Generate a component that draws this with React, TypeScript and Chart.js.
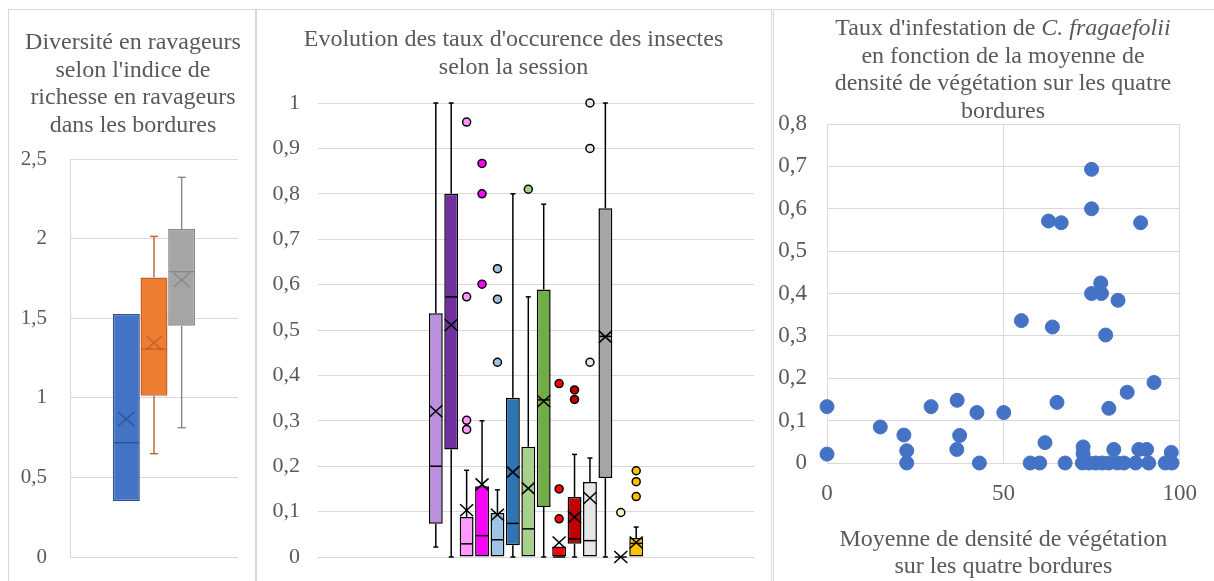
import React, { useEffect, useRef } from 'react';
import { Chart, registerables } from 'chart.js';

Chart.register(...registerables);

const FONT = "'Liberation Serif', 'Times New Roman', serif";
const TXT = '#595959';
const GRID = '#D9D9D9';

// ---------- Panel 1 : diversité en ravageurs ----------
const p1TitleLines = ["Diversité en ravageurs", "selon l'indice de", "richesse en ravageurs", "dans les bordures"];
const p1Series = ['Bordure 1', 'Bordure 2', 'Bordure 3'];
const p1Min = [0.352, 0.649, 0.812];
const p1Q1 = [0.352, 1.013, 1.453];
const p1Median = [0.718, 1.306, 1.792];
const p1Q3 = [1.526, 1.755, 2.06];
const p1Max = [1.526, 2.014, 2.385];
const p1Mean = [0.867, 1.346, 1.74];
const p1Fill = ['#4472C4', '#ED7D31', '#A5A5A5'];
const p1Edge = ['#2F528F', '#C0622A', '#878787'];
const p1Outliers: number[][] = [[], [], []];

// ---------- Panel 2 : taux d'occurence des insectes ----------
const p2TitleLines = ["Evolution des taux d'occurence des insectes", "selon la session"];
const p2Series = ['S1', 'S2', 'S3', 'S4', 'S5', 'S6', 'S7', 'S8', 'S9', 'S10', 'S11', 'S12', 'S13', 'S14'];
const p2Min = [0.022, 0, 0, 0, 0, 0, 0, 0, 0, 0, 0, 0, 0, 0];
const p2Q1 = [0.073, 0.237, 0, 0, 0, 0.026, 0, 0.11, 0, 0.029, 0, 0.174, 0, 0];
const p2Median = [0.2, 0.573, 0.029, 0.047, 0.038, 0.074, 0.062, 0.346, 0, 0.04, 0.036, 0.486, 0, 0.03];
const p2Q3 = [0.537, 0.8, 0.088, 0.156, 0.097, 0.351, 0.243, 0.589, 0.023, 0.132, 0.165, 0.768, 0, 0.042];
const p2Max = [1.0, 1.0, 0.191, 0.3, 0.148, 0.8, 0.573, 0.777, 0.023, 0.226, 0.218, 1.0, 0, 0.066];
const p2Mean = [0.321, 0.511, 0.103, 0.16, 0.093, 0.187, 0.151, 0.343, 0.032, 0.088, 0.13, 0.485, 0, 0.032];
const p2Outliers: number[][] = [
  [], [], [0.281, 0.301, 0.573, 0.958], [0.601, 0.8, 0.867], [0.429, 0.568, 0.635], [],
  [0.81], [], [0.084, 0.15, 0.382], [0.347, 0.368], [0.429, 0.9, 1.0], [], [0.098], [0.133, 0.166, 0.19],
];
const p2Fill = ['#BA8FDD', '#7030A0', '#FF99FF', '#FF00FF', '#9DC3E6', '#2E75B6', '#A9D18E',
  '#70AD47', '#FF0000', '#C00000', '#E7E6E6', '#A5A5A5', '#FFF2CC', '#FFC000'];

// ---------- Panel 3 : taux d'infestation ----------
const p3XTitle = ['Moyenne de densité de végétation', 'sur les quatre bordures'];
const densiteVeg = [75, 75, 62.8, 66.4, 88.9, 77.6, 75, 77.8, 82.5, 55.1, 63.9, 79.0, 92.7, 85.1,
  0, 29.5, 36.9, 65.2, 79.9, 42.5, 50.1, 15.1, 21.8, 37.6, 61.8, 0, 22.6, 36.8, 72.6, 72.6, 81.3,
  88.4, 90.6, 97.6, 22.6, 43.2, 57.6, 60.3, 67.5, 72.4, 74.3, 76.2, 78.0, 79.9, 82.3, 84.2, 87.5,
  91.2, 95.9, 97.8];
const tauxInfest = [0.693, 0.6, 0.571, 0.567, 0.567, 0.425, 0.4, 0.4, 0.384, 0.336, 0.321, 0.302, 0.19, 0.167,
  0.133, 0.133, 0.148, 0.143, 0.129, 0.119, 0.119, 0.085, 0.066, 0.065, 0.048, 0.021, 0.029, 0.032, 0.038, 0.022, 0.032,
  0.032, 0.032, 0.025, 0, 0, 0, 0, 0, 0, 0, 0, 0, 0, 0, 0, 0,
  0, 0, 0];

const fmt = (v: any) => String(Math.round(Number(v) * 10) / 10).replace('.', ',');

type BoxCfg = {
  min: number[]; q1: number[]; median: number[]; q3: number[]; max: number[]; mean: number[];
  outliers: number[][]; edge: string[]; fill: string[];
  lineW: number; capW: number; xHalfW: number; xHalfH: number; xLineW: number; outR: number; outEdge: string | null;
};

function makeBoxPlugin(id: string, c: BoxCfg) {
  return {
    id,
    afterDatasetsDraw(chart: any) {
      const ctx = chart.ctx as CanvasRenderingContext2D;
      const ys = chart.scales.y;
      const line = (x1: number, y1: number, x2: number, y2: number) => {
        ctx.beginPath(); ctx.moveTo(x1, y1); ctx.lineTo(x2, y2); ctx.stroke();
      };
      ctx.save();
      for (let i = 0; i < c.q1.length; i++) {
        const el = chart.getDatasetMeta(i).data[0];
        if (!el) continue;
        const { x, width } = el.getProps(['x', 'width'], true);
        const half = width / 2;
        ctx.strokeStyle = c.edge[i];
        ctx.lineWidth = c.lineW;
        ctx.lineCap = 'butt';
        if (c.max[i] > c.q3[i]) {
          const a = ys.getPixelForValue(c.q3[i]);
          const b = ys.getPixelForValue(c.max[i]);
          line(x, a, x, b);
          line(x - c.capW / 2, b, x + c.capW / 2, b);
        }
        if (c.min[i] < c.q1[i]) {
          const a = ys.getPixelForValue(c.q1[i]);
          const b = ys.getPixelForValue(c.min[i]);
          line(x, a, x, b);
          line(x - c.capW / 2, b, x + c.capW / 2, b);
        }
        const m = ys.getPixelForValue(c.median[i]);
        line(x - half + 1, m, x + half - 1, m);
        const mu = ys.getPixelForValue(c.mean[i]);
        ctx.lineWidth = c.xLineW;
        line(x - c.xHalfW, mu - c.xHalfH, x + c.xHalfW, mu + c.xHalfH);
        line(x - c.xHalfW, mu + c.xHalfH, x + c.xHalfW, mu - c.xHalfH);
        for (const o of c.outliers[i]) {
          const oy = ys.getPixelForValue(o);
          ctx.beginPath();
          ctx.arc(x, oy, c.outR, 0, Math.PI * 2);
          ctx.fillStyle = c.fill[i];
          ctx.fill();
          ctx.lineWidth = 1.5;
          ctx.strokeStyle = c.outEdge || c.edge[i];
          ctx.stroke();
        }
      }
      ctx.restore();
    },
  };
}

function yAxis(min: number, max: number, step: number, size: number, pad: number, width: number, border: boolean) {
  return {
    min, max,
    ticks: { stepSize: step, padding: pad, color: TXT, font: { family: FONT, size }, callback: fmt },
    grid: { color: GRID, drawTicks: false, lineWidth: 1 },
    border: { display: border, color: GRID, width: 1 },
    afterFit: (s: any) => { s.width = width; s.paddingTop = 0; s.paddingBottom = 0; },
  };
}

function hiddenX(height: number) {
  return {
    display: true,
    ticks: { display: false },
    grid: { display: false, drawTicks: false },
    border: { display: false },
    afterFit: (s: any) => { s.height = height; s.paddingLeft = 0; s.paddingRight = 0; },
  };
}

const titleStyle = (left: number, top: number, width: number): React.CSSProperties => ({
  position: 'absolute', left, top, width, textAlign: 'center', fontFamily: FONT,
  fontSize: 24, lineHeight: '27.6px', color: TXT, whiteSpace: 'nowrap',
});

export default function App() {
  const c1 = useRef<HTMLCanvasElement>(null);
  const c2 = useRef<HTMLCanvasElement>(null);
  const c3 = useRef<HTMLCanvasElement>(null);

  useEffect(() => {
    const charts: Chart[] = [];

    charts.push(new Chart(c1.current!, {
      type: 'bar',
      data: {
        labels: [''],
        datasets: p1Series.map((name, i) => ({
          label: name,
          data: [[p1Q1[i], p1Q3[i]]] as any,
          backgroundColor: p1Fill[i],
          borderColor: p1Edge[i],
          borderWidth: 1.5,
          borderSkipped: false,
          categoryPercentage: 0.494,
          barPercentage: 0.975,
        })),
      },
      options: {
        responsive: false, animation: false, devicePixelRatio: 1,
        layout: { padding: { top: 149, right: 16, bottom: 0, left: 0 } },
        plugins: { legend: { display: false }, tooltip: { enabled: false }, title: { display: false } },
        scales: {
          x: hiddenX(24) as any,
          y: yAxis(0, 2.5, 0.5, 21, 23, 61, true) as any,
        },
      },
      plugins: [makeBoxPlugin('box1', {
        min: p1Min, q1: p1Q1, median: p1Median, q3: p1Q3, max: p1Max, mean: p1Mean,
        outliers: p1Outliers, edge: p1Edge, fill: p1Fill,
        lineW: 1.4, capW: 8, xHalfW: 8, xHalfH: 7, xLineW: 1.2, outR: 4, outEdge: null,
      })],
    }));

    charts.push(new Chart(c2.current!, {
      type: 'bar',
      data: {
        labels: [''],
        datasets: p2Series.map((name, i) => ({
          label: name,
          data: [[p2Q1[i], p2Q3[i]]] as any,
          backgroundColor: p2Fill[i],
          borderColor: '#000000',
          borderWidth: 1.5,
          borderSkipped: false,
          categoryPercentage: 0.495,
          barPercentage: 0.9,
        })),
      },
      options: {
        responsive: false, animation: false, devicePixelRatio: 1,
        layout: { padding: { top: 93, right: 16, bottom: 0, left: 0 } },
        plugins: { legend: { display: false }, tooltip: { enabled: false }, title: { display: false } },
        scales: {
          x: hiddenX(24) as any,
          y: yAxis(0, 1, 0.1, 22, 18, 61, false) as any,
        },
      },
      plugins: [makeBoxPlugin('box2', {
        min: p2Min, q1: p2Q1, median: p2Median, q3: p2Q3, max: p2Max, mean: p2Mean,
        outliers: p2Outliers, edge: p2Fill.map(() => '#000000'), fill: p2Fill,
        lineW: 1.5, capW: 5, xHalfW: 6.5, xHalfH: 6, xLineW: 1.6, outR: 4, outEdge: '#000000',
      })],
    }));

    charts.push(new Chart(c3.current!, {
      type: 'scatter',
      data: {
        datasets: [{
          label: "Taux d'infestation",
          data: densiteVeg.map((x, i) => ({ x, y: tauxInfest[i] })),
          backgroundColor: '#4472C4',
          borderColor: '#4472C4',
          borderWidth: 1,
          pointRadius: 7,
          clip: false as any,
        }],
      },
      options: {
        responsive: false, animation: false, devicePixelRatio: 1,
        layout: { padding: { top: 114, right: 33, bottom: 0, left: 0 } },
        plugins: { legend: { display: false }, tooltip: { enabled: false }, title: { display: false } },
        scales: {
          x: {
            type: 'linear', min: 0, max: 100,
            ticks: { stepSize: 50, padding: 17, color: TXT, font: { family: FONT, size: 23 } },
            grid: { color: GRID, drawTicks: false, lineWidth: 1 },
            border: { display: true, color: GRID },
            title: { display: true, text: p3XTitle, color: TXT, font: { family: FONT, size: 24, lineHeight: 1.15 }, padding: 0 },
            afterFit: (s: any) => { s.height = 118; },
          } as any,
          y: yAxis(0, 0.8, 0.1, 23, 20, 53, true) as any,
        },
      },
    }));

    return () => charts.forEach((c) => c.destroy());
  }, []);

  const box = (left: number, width: number): React.CSSProperties => ({
    position: 'absolute', left, top: 9, width, height: 620, border: `1px solid ${GRID}`, boxSizing: 'content-box',
  });

  return (
    <div style={{ position: 'absolute', left: 0, top: 0, width: 1214, height: 581, overflow: 'hidden', background: '#ffffff' }}>
      <div style={box(8, 246)} />
      <div style={box(256, 514)} />
      <div style={box(773, 500)} />
      <canvas ref={c1} width={245} height={571} style={{ position: 'absolute', left: 9, top: 10, width: 245, height: 571 }} />
      <canvas ref={c2} width={513} height={571} style={{ position: 'absolute', left: 257, top: 10, width: 513, height: 571 }} />
      <canvas ref={c3} width={440} height={571} style={{ position: 'absolute', left: 774, top: 10, width: 440, height: 571 }} />
      <div style={titleStyle(8, 28, 250)}>
        {p1TitleLines.map((t, i) => <div key={i}>{t}</div>)}
      </div>
      <div style={titleStyle(256, 25, 515)}>
        {p2TitleLines.map((t, i) => <div key={i}>{t}</div>)}
      </div>
      <div style={titleStyle(773, 14, 460)}>
        <div>Taux d'infestation de <i>C. fragaefolii</i></div>
        <div>en fonction de la moyenne de</div>
        <div>densité de végétation sur les quatre</div>
        <div>bordures</div>
      </div>
    </div>
  );
}
